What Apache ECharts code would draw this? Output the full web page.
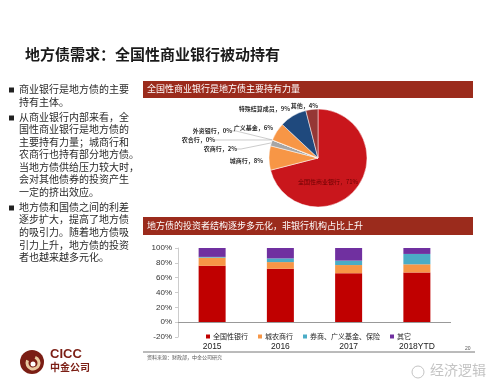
<!DOCTYPE html>
<html><head><meta charset="utf-8">
<script src="https://cdn.jsdelivr.net/npm/echarts@6/dist/echarts.min.js"></script>
<style>html,body{margin:0;padding:0;background:#fff}#c{width:500px;height:386px}</style>
</head><body><div id="c"></div>
<script>
const pieNames = ['全国性商业银行','城商行','农商行','农合行','外资银行','广义基金','特殊结算成员','其他'];
const pieValues = [71,8,2,0,0,6,9,4];
const barCategories = ['2015','2016','2017','2018YTD'];
const barSeriesNames = ['全国性银行','城农商行','券商、广义基金、保险','其它'];
const nationalBanks = [76,72,66,67];
const cityRuralBanks = [11,9,11,11];
const brokersFunds = [1,5,6,14];
const otherInvestors = [12,14,17,8];
const yTicks = [-20,0,20,40,60,80,100];

const bullets = [
  ['商业银行是地方债的主要','持有主体。'],
  ['从商业银行内部来看，全','国性商业银行是地方债的','主要持有力量；城商行和','农商行也持有部分地方债。','当地方债供给压力较大时，','会对其他债券的投资产生','一定的挤出效应。'],
  ['地方债和国债之间的利差','逐步扩大，提高了地方债','的吸引力。随着地方债吸','引力上升，地方债的投资','者也越来越多元化。']
];

const CJK = '"Noto Sans CJK SC", sans-serif';
const pieColors = ['#C9161C','#F79646','#A6A6A6','#BFBFBF','#D9D9D9','#F79646','#1F497D','#953735'];
const barColors = ['#C00000','#F79646','#4BACC6','#7030A0'];
// label anchor positions (style only)
const pieLabelPos = [
  [328,182,'center'],[263,161,'right'],[237,149,'right'],[215,140,'right'],
  [232,131,'right'],[273,128,'right'],[290,109,'right'],[318,106,'right']
];
const pieLineShow = [false,false,true,true,true,false,false,false];

const graphics = [];
graphics.push({type:'text',left:25,top:47,style:{text:'地方债需求：全国性商业银行被动持有',font:'bold 15px '+CJK,fill:'#1a1a1a'}});
graphics.push({type:'rect',shape:{x:143,y:81,width:330,height:17},style:{fill:'#9B2B1C'}});
graphics.push({type:'text',left:147,top:84,style:{text:'全国性商业银行是地方债主要持有力量',font:'9px '+CJK,fill:'#fff'}});
graphics.push({type:'rect',shape:{x:143,y:217,width:330,height:18},style:{fill:'#9B2B1C'}});
graphics.push({type:'text',left:147,top:221,style:{text:'地方债的投资者结构逐步多元化，非银行机构占比上升',font:'9px '+CJK,fill:'#fff'}});
// bullets
const bulletStarts = [84, 112, 202];
const lineSteps = [13, 12.5, 12.6];
bullets.forEach((lines, bi) => {
  let yy = bulletStarts[bi];
  graphics.push({type:'rect',shape:{x:9,y:yy+3.5,width:5,height:5},style:{fill:'#222'}});
  lines.forEach((t) => {
    graphics.push({type:'text',left:19,top:yy,style:{text:t,font:'10px '+CJK,fill:'#2a2a2a'}});
    yy += lineSteps[bi];
  });
});
// footer
graphics.push({type:'line',shape:{x1:143,y1:352,x2:475,y2:352},style:{stroke:'#777',lineWidth:1}});
graphics.push({type:'text',left:147,top:355,style:{text:'资料来源：财政部，中金公司研究',font:'5px '+CJK,fill:'#555'}});
graphics.push({type:'text',left:465,top:346,style:{text:'20',font:'5px sans-serif',fill:'#555'}});
graphics.push({type:'circle',shape:{cx:32,cy:362,r:12},style:{fill:'#7B1E14'}});
graphics.push({type:'arc',shape:{cx:33,cy:363,r:6,startAngle:-1.2,endAngle:3.6},style:{stroke:'#E8C9A0',lineWidth:3,fill:null}});
graphics.push({type:'circle',shape:{cx:33,cy:364,r:2.5},style:{fill:'#fff'}});
graphics.push({type:'text',left:50,top:348,style:{text:'CICC',font:'bold 13px "Liberation Sans", Arial, sans-serif',fill:'#7B1E14'}});
graphics.push({type:'text',left:50,top:362,style:{text:'中金公司',font:'bold 10px '+CJK,fill:'#7B1E14'}});
graphics.push({type:'circle',shape:{cx:418,cy:372,r:6},style:{stroke:'#c4c4c4',lineWidth:1,fill:null}});
graphics.push({type:'text',left:430,top:363,style:{text:'经济逻辑',font:'14px '+CJK,fill:'#c4c4c4'}});

const chart = echarts.init(document.getElementById('c'), null, {renderer:'canvas'});
chart.setOption({
  animation:false,
  backgroundColor:'#fff',
  graphic: graphics,
  legend:{
    data: barSeriesNames,
    left:201, top:328,
    icon:'rect', itemWidth:4, itemHeight:4, itemGap:10,
    textStyle:{fontSize:7, fontFamily:CJK, color:'#222', padding:[0,0,0,-2]}
  },
  grid:{left:178, right:49, top:248, bottom:49},
  xAxis:{
    type:'category', data:barCategories,
    axisLine:{show:false}, axisTick:{show:false},
    axisLabel:{fontSize:8.5, fontFamily:'"Liberation Sans", Arial, sans-serif', color:'#222', margin:5}
  },
  yAxis:{
    type:'value', min:yTicks[0], max:yTicks[yTicks.length-1], interval:20,
    axisLine:{show:true, lineStyle:{color:'#ccc'}},
    axisTick:{show:true, length:3, lineStyle:{color:'#ccc'}},
    splitLine:{show:false},
    axisLabel:{formatter:'{value}%', fontSize:8, fontFamily:'"Liberation Sans", Arial, sans-serif', color:'#333', margin:6}
  },
  series:[
    {type:'pie', center:[318,158], radius:49, startAngle:90, clockwise:true,
     avoidLabelOverlap:false,
     itemStyle:{borderColor:'#fff', borderWidth:0.5},
     label:{show:true, formatter:'{b}，{c}%', fontSize:6, fontWeight:'bold', fontFamily:CJK, color:'#333'},
     labelLine:{show:true, length:4, length2:4, lineStyle:{color:'#aaa', width:0.6}},
     labelLayout:function(p){
       const pos = pieLabelPos[p.dataIndex];
       return {x:pos[0], y:pos[1], align:pos[2], verticalAlign:'middle'};
     },
     data: pieNames.map((n,i)=>({name:n, value:pieValues[i], itemStyle:{color:pieColors[i]},
       label: i===0 ? {fontWeight:'normal', color:'#6b0000'} : {},
       labelLine:{show:pieLineShow[i]}}))
    },
    {type:'bar', name:barSeriesNames[0], stack:'s', data:nationalBanks, barWidth:27, itemStyle:{color:barColors[0]},
     markLine:{silent:true, symbol:'none', label:{show:false}, lineStyle:{color:'#999', type:'solid', width:1}, data:[{yAxis:0}]}},
    {type:'bar', name:barSeriesNames[1], stack:'s', data:cityRuralBanks, barWidth:27, itemStyle:{color:barColors[1]}},
    {type:'bar', name:barSeriesNames[2], stack:'s', data:brokersFunds, barWidth:27, itemStyle:{color:barColors[2]}},
    {type:'bar', name:barSeriesNames[3], stack:'s', data:otherInvestors, barWidth:27, itemStyle:{color:barColors[3]}}
  ]
});
</script></body></html>
